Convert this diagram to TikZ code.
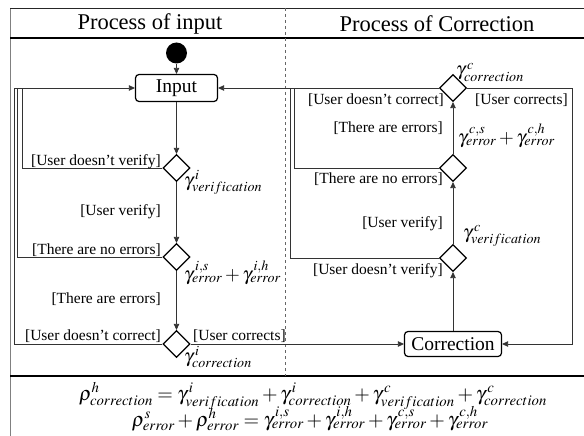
\documentclass[tikz,border=0pt]{standalone}
\usepackage{mathptmx}
\usepackage{fontspec}
\setmainfont{Liberation Serif}
\usetikzlibrary{arrows.meta,shapes.geometric}
\begin{document}
\begin{tikzpicture}[x=1pt,y=-1pt,
 conn/.style={draw=black!80, line width=0.8pt},
 arr/.style={conn,-{Triangle[length=6pt,width=5.5pt]}},
 act/.style={draw, rounded corners=3.5pt, line width=1.2pt, minimum width=82pt, minimum height=27pt, font=\fontsize{19.5}{20}\selectfont, inner sep=0pt},
 dec/.style={draw, diamond, line width=1.2pt, minimum width=27pt, minimum height=27pt, inner sep=0pt},
 lbl/.style={font=\fontsize{15.5}{17}\selectfont, inner sep=0pt},
 mth/.style={font=\fontsize{19}{21}\selectfont, inner sep=0pt},
 eqn/.style={font=\fontsize{20}{22}\selectfont, inner sep=0pt},
 hdr/.style={font=\fontsize{22.5}{24}\selectfont, inner sep=0pt}
]
\useasboundingbox (0,0) rectangle (584,436);
\fill[white] (0,0) rectangle (584,436);
% frame
\draw[black!50, line width=0.8pt] (10,8) -- (10,436);
\draw[black!85, line width=0.8pt] (10,8) -- (584,8);
\draw[black, line width=1.6pt] (10,38) -- (584,38);
\draw[black, line width=1.6pt] (10,376) -- (584,376);
\draw[black!60, dashed, line width=0.5pt] (285,8) -- (285,376);
\node[hdr] (h1) at (150,24) {Process of input};
\node[hdr] (h2) at (437,24) {Process of Correction};
% nodes
\node[circle, fill, inner sep=0pt, minimum size=21pt] (start) at (176.5,53) {};
\node[act] (input) at (176.5,88) {Input};
\node[dec] (d1) at (176.5,168) {};
\node[dec] (d2) at (176.5,257) {};
\node[dec] (d3) at (176.5,344) {};
\node[act, minimum width=97pt, minimum height=25pt] (corr) at (453,344) {Correction};
\node[dec] (c3) at (453,258) {};
\node[dec] (c2) at (453,168) {};
\node[dec] (c1) at (453,88) {};
% coordinates
\coordinate (lA) at (22,88);
\coordinate (lB) at (17.5,88);
\coordinate (lC) at (14,88);
\coordinate (rA) at (294,88);
\coordinate (rB) at (290,88);
\coordinate (rR) at (572,344);
% connectors
\draw[arr] (start) -- (input);
\draw[arr] (input) -- (d1);
\draw[arr] (d1) -- (d2);
\draw[arr] (d2) -- (d3);
\draw[conn] (d1.west) -| (lA);
\draw[conn] (d2.west) -| (lB);
\draw[arr] (d3.west) -| (lC) -- (input.west);
\draw[conn] (c2.west) -| (rA);
\draw[conn] (c3.west) -| (rB);
\draw[arr] (c1.west) -- (input.east);
\draw[arr] (d3.east) -- (corr.west);
\draw[arr] (c1.east) -| (rR) -- (corr.east);
\draw[arr] (corr) -- (c3);
\draw[arr] (c3) -- (c2);
\draw[arr] (c2) -- (c1);
% left labels
\node[lbl, anchor=base east] (t1) at (161,165) {[User doesn’t verify]};
\node[lbl, anchor=base east] (t2) at (161,215) {[User verify]};
\node[lbl, anchor=base east] (t3) at (161,254) {[There are no errors]};
\node[lbl, anchor=base east] (t4) at (161,303) {[There are errors]};
\node[lbl, anchor=base east] (t5) at (161,340) {[User doesn’t correct]};
\node[lbl, anchor=base west] (t6) at (193,340) {[User corrects]};
% right labels
\node[lbl, anchor=base east] (u1) at (444,105) {[User doesn’t correct]};
\node[lbl, anchor=base west] (u2) at (475,105) {[User corrects]};
\node[lbl, anchor=base east] (u3) at (443,132) {[There are errors]};
\node[lbl, anchor=base east] (u4) at (443,183) {[There are no errors]};
\node[lbl, anchor=base east] (u5) at (443,227) {[User verify]};
\node[lbl, anchor=base east] (u6) at (443,274) {[User doesn’t verify]};
% math labels
\node[mth, anchor=base west] (m1) at (184,186) {$\gamma^{\,i}_{verification}$};
\node[mth, anchor=base west] (m2) at (184,280) {$\gamma^{\,i,s}_{error}+\gamma^{\,i,h}_{error}$};
\node[mth, anchor=base west] (m3) at (184,362) {$\gamma^{\,i}_{correction}$};
\node[mth, anchor=base west] (m4) at (456,76) {$\gamma^{\,c}_{correction}$};
\node[mth, anchor=base west] (m5) at (458,143) {$\gamma^{\,c,s}_{error}+\gamma^{\,c,h}_{error}$};
\node[mth, anchor=base west] (m6) at (463,238) {$\gamma^{\,c}_{verification}$};
% equations
\node[eqn, anchor=base] (e1) at (313,400) {$\rho^{h}_{correction}=\gamma^{\,i}_{verification}+\gamma^{\,i}_{correction}+\gamma^{\,c}_{verification}+\gamma^{\,c}_{correction}$};
\node[eqn, anchor=base] (e2) at (310,426) {$\rho^{s}_{error}+\rho^{h}_{error}=\gamma^{\,i,s}_{error}+\gamma^{\,i,h}_{error}+\gamma^{\,c,s}_{error}+\gamma^{\,c,h}_{error}$};
\end{tikzpicture}
\end{document}
